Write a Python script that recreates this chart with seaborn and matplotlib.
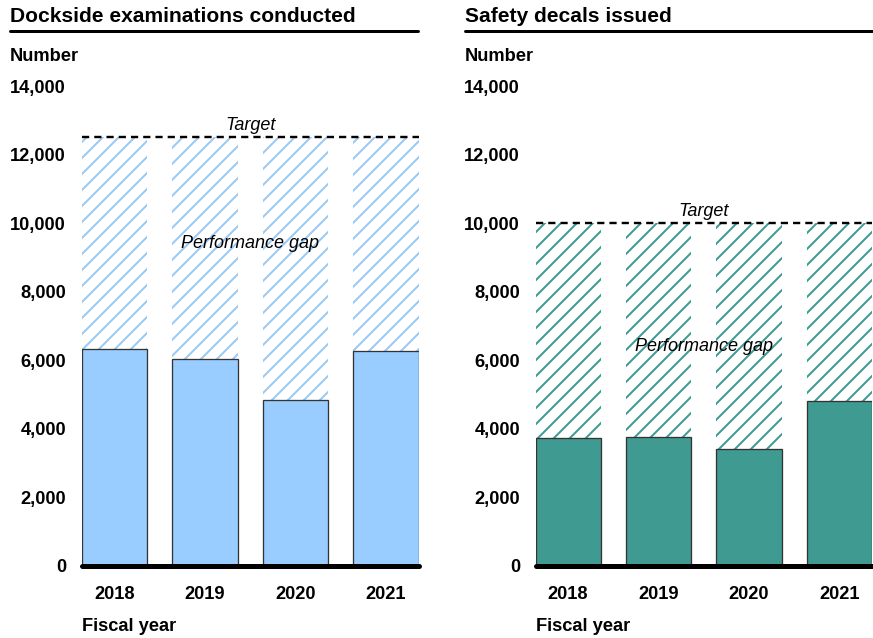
import pandas as pd
import matplotlib
matplotlib.use("Agg")
import matplotlib.pyplot as plt
import seaborn as sns
from matplotlib.lines import Line2D

# -----------------------
# Data
# -----------------------
years = ["2018", "2019", "2020", "2021"]
exams = [6330, 6050, 4830, 6260]
exams_target = 12500
decals = [3720, 3770, 3410, 4800]
decals_target = 10000
yticks = [0, 2000, 4000, 6000, 8000, 10000, 12000, 14000]
ytick_labels = ["0", "2,000", "4,000", "6,000", "8,000", "10,000", "12,000", "14,000"]

W, H = 873, 638
DPI = 96


def P(px):
    # pixel size -> points at this dpi
    return px * 72 / DPI


sns.set_theme(style="white")
plt.rcParams["font.family"] = ["Liberation Sans", "DejaVu Sans"]
plt.rcParams["hatch.linewidth"] = P(2.0)
plt.rcParams["text.color"] = "black"
plt.rcParams["xtick.color"] = "black"
plt.rcParams["ytick.color"] = "black"

fig = plt.figure(figsize=(W / DPI, H / DPI), dpi=DPI)
fig.patch.set_facecolor("white")


def panel(left, values, target, fill, hatch_col, gap_y, ypad):
    ax = fig.add_axes([left / W, 1 - 566 / H, 336.5 / W, 480 / H])
    df = pd.DataFrame({"year": years, "value": values, "target": [target] * len(years)})

    # hatched "gap" bars up to the target
    sns.barplot(data=df, x="year", y="target", ax=ax, width=0.72,
                saturation=1, color="white", errorbar=None)
    for p in ax.patches:
        p.set_facecolor("white")
        p.set_edgecolor(hatch_col)
        p.set_linewidth(0)
        p.set_hatch("//")

    # actual bars
    sns.barplot(data=df, x="year", y="value", ax=ax, width=0.72,
                saturation=1, color=fill, edgecolor="#333333",
                linewidth=P(1.3), errorbar=None)

    ax.axhline(target, color="black", lw=P(2.4), linestyle=(0, (3.0, 2.1)), zorder=4)
    ax.axhline(0, color="black", lw=P(5), clip_on=False, zorder=5)

    ax.set_ylim(0, 14000)
    ax.set_xlim(-0.36, 3.36)
    ax.set_yticks(yticks, ytick_labels, fontweight="bold", fontsize=P(18.3))
    ax.set_xticks(range(len(years)), years, fontweight="bold", fontsize=P(18.3))
    ax.tick_params(axis="x", length=0, pad=P(20), labelcolor="black")
    ax.tick_params(axis="y", length=0, pad=P(ypad), labelcolor="black")
    ax.set_xlabel("")
    ax.set_ylabel("")
    for s in ax.spines.values():
        s.set_visible(False)
    ax.set_facecolor("white")

    ax.annotate("Target", xy=(1.5, target), xytext=(0, P(7.4)),
                textcoords="offset points", ha="center", va="baseline",
                style="italic", fontsize=P(18), color="black")
    ax.text(1.5, gap_y, "Performance gap", ha="center", va="baseline",
            style="italic", fontsize=P(18), color="black", zorder=6)
    return ax


panel(82, exams, exams_target, "#99CCFF", "#99C9F5", 9270, 16)
panel(535.5, decals, decals_target, "#3F9A92", "#3F9A92", 6270, 15.5)

# titles, underlines and labels
for tx, lx0, lx1, ax_left, title in [
    (10, 10, 418, 82, "Dockside examinations conducted"),
    (465, 465, 872, 535.5, "Safety decals issued"),
]:
    fig.text(tx / W, 1 - 22 / H, title, fontsize=P(21), fontweight="bold",
             ha="left", va="baseline", color="black")
    fig.add_artist(Line2D([lx0 / W, lx1 / W], [1 - 31 / H, 1 - 31 / H],
                          color="black", lw=P(3), transform=fig.transFigure))
    fig.text(tx / W, 1 - 61 / H, "Number", fontsize=P(18.3), fontweight="bold",
             ha="left", va="baseline", color="black")
    fig.text(ax_left / W, 1 - 631 / H, "Fiscal year", fontsize=P(18.3),
             fontweight="bold", ha="left", va="baseline", color="black")

fig.savefig("out.png", dpi=DPI, facecolor="white")
